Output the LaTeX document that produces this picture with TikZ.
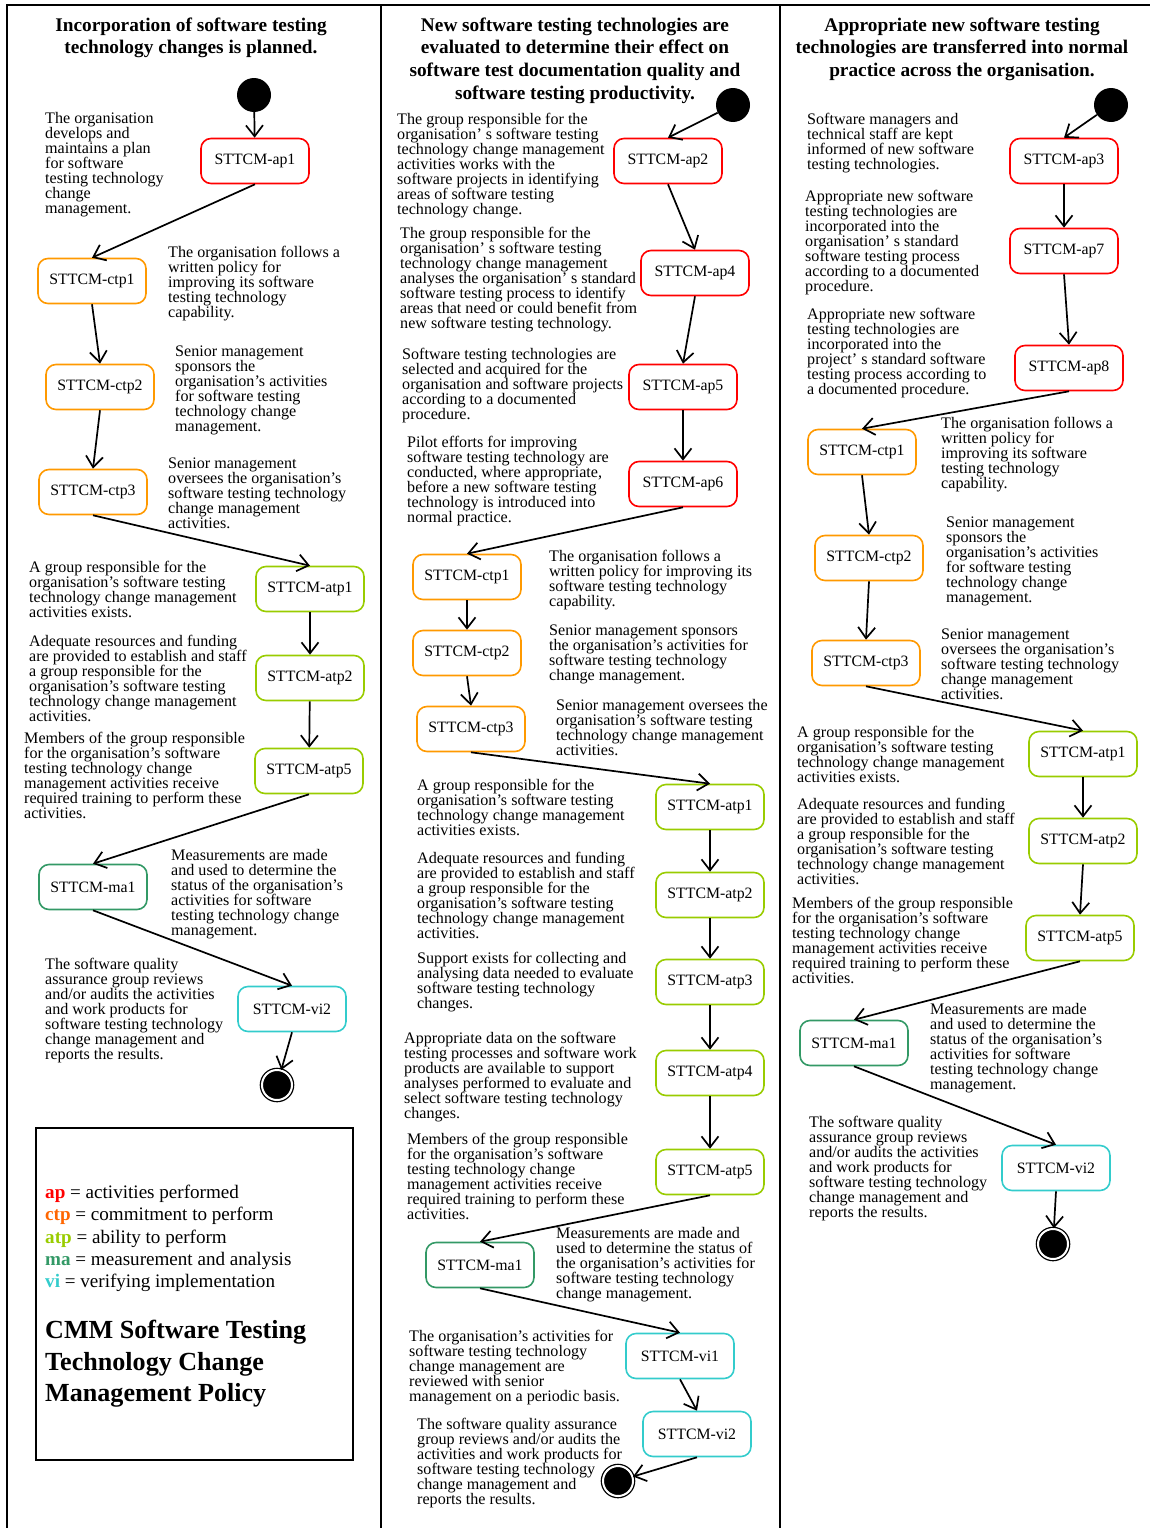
\documentclass[tikz,border=0pt]{standalone}
\usepackage{fontspec}
\setmainfont{Liberation Serif}
\usetikzlibrary{arrows.meta}

\definecolor{apc}{RGB}{255,0,0}
\definecolor{ctpc}{RGB}{255,153,0}
\definecolor{ctpl}{RGB}{255,102,0}
\definecolor{atpc}{RGB}{153,204,0}
\definecolor{mac}{RGB}{51,153,102}
\definecolor{vic}{RGB}{51,204,204}

\tikzset{
  box/.style={draw, line width=1.6pt, rounded corners=10pt, minimum width=108pt,
    minimum height=45pt, inner sep=2pt, fill=white, font=\fontsize{15.8}{18}\selectfont},
  apbox/.style={box, draw=apc},
  ctpbox/.style={box, draw=ctpc},
  atpbox/.style={box, draw=atpc},
  mabox/.style={box, draw=mac},
  vibox/.style={box, draw=vic},
  startdot/.style={circle, fill=black, minimum size=34pt, inner sep=0pt},
  enddot/.style={circle, fill=black, draw=black, line width=1.3pt, double=white,
    double distance=2pt, minimum size=30pt, inner sep=0pt},
  flow/.style={line width=1.7pt, -{Straight Barb[length=11pt,width=17pt]}},
  desc/.style={anchor=north west, align=left, inner sep=0pt, yshift=-1.5pt,
    font=\fontsize{16.1}{15}\selectfont},
  head/.style={anchor=north, align=center, inner sep=0pt, yshift=-2pt,
    font=\bfseries\fontsize{19.3}{22.7}\selectfont},
  framing/.style={line width=2pt}
}

\begin{document}
\begin{tikzpicture}[x=1pt, y=-1pt]
\useasboundingbox (0,0) rectangle (1150,1528);

% page frame and column separators
\draw[framing] (7,1528) -- (7,5) -- (1150,5);
\draw[framing] (381,5) -- (381,1528);
\draw[framing] (780,5) -- (780,1528);

% ---------------- column 1 ----------------
\node[head] (h1) at (191,15.5) {Incorporation of software testing\\technology changes is planned.};

\node[startdot] (s1) at (254,95) {};
\node[apbox]  (c1ap1)  at (255,161) {STTCM-ap1};
\node[ctpbox] (c1ctp1) at (92,281)  {STTCM-ctp1};
\node[ctpbox] (c1ctp2) at (100,387) {STTCM-ctp2};
\node[ctpbox] (c1ctp3) at (93,492)  {STTCM-ctp3};
\node[atpbox] (c1atp1) at (310,589) {STTCM-atp1};
\node[atpbox] (c1atp2) at (310,678) {STTCM-atp2};
\node[atpbox] (c1atp5) at (309,771) {STTCM-atp5};
\node[mabox]  (c1ma1)  at (93,887)  {STTCM-ma1};
\node[vibox]  (c1vi2)  at (292,1009) {STTCM-vi2};
\node[enddot] (e1) at (277,1085) {};

\draw[flow] (s1) -- (c1ap1);
\draw[flow] (c1ap1.south) -- (c1ctp1.north);
\draw[flow] (c1ctp1.south) -- (c1ctp2.north);
\draw[flow] (c1ctp2.south) -- (c1ctp3.north);
\draw[flow] (c1ctp3.south) -- (c1atp1.north);
\draw[flow] (c1atp1) -- (c1atp2);
\draw[flow] (c1atp2) -- (c1atp5);
\draw[flow] (c1atp5.south) -- (c1ma1.north);
\draw[flow] (c1ma1.south) -- (c1vi2.north);
\draw[flow] (c1vi2.south) -- (e1);

\node[desc] (d1a) at (45,111) {The organisation\\develops and\\maintains a plan\\for software\\testing technology\\change\\management.};
\node[desc] (d1b) at (168,244) {The organisation follows a\\written policy for\\improving its software\\testing technology\\capability.};
\node[desc] (d1c) at (175,344) {Senior management\\sponsors the\\organisation's activities\\for software testing\\technology change\\management.};
\node[desc] (d1d) at (168,456) {Senior management\\oversees the organisation's\\software testing technology\\change management\\activities.};
\node[desc] (d1e) at (29,559) {A group responsible for the\\organisation's software testing\\technology change management\\activities exists.};
\node[desc] (d1f) at (29,633) {Adequate resources and funding\\are provided to establish and staff\\a group responsible for the\\organisation's software testing\\technology change management\\activities.};
\node[desc] (d1g) at (24,730) {Members of the group responsible\\for the organisation's software\\testing technology change\\management activities receive\\required training to perform these\\activities.};
\node[desc] (d1h) at (171,848) {Measurements are made\\and used to determine the\\status of the organisation's\\activities for software\\testing technology change\\management.};
\node[desc] (d1i) at (45,956) {The software quality\\assurance group reviews\\and/or audits the activities\\and work products for\\software testing technology\\change management and\\reports the results.};

% legend
\draw[line width=1.5pt] (36,1128) rectangle (353,1460);
\node[anchor=north west, align=left, inner sep=0pt, font=\fontsize{19.1}{22.3}\selectfont] (key) at (45,1185)
  {\textcolor{apc}{\bfseries ap} = activities performed\\
   \textcolor{ctpl}{\bfseries ctp} = commitment to perform\\
   \textcolor{atpc}{\bfseries atp} = ability to perform\\
   \textcolor{mac}{\bfseries ma} = measurement and analysis\\
   \textcolor{vic}{\bfseries vi} = verifying implementation};
\node[anchor=north west, align=left, inner sep=0pt, font=\bfseries\fontsize{26.1}{31.7}\selectfont] (policy) at (45,1320)
  {CMM Software Testing\\Technology Change\\Management Policy};

% ---------------- column 2 ----------------
\node[head] (h2) at (575,15.5) {New software testing technologies are\\evaluated to determine their effect on\\software test documentation quality and\\software testing productivity.};

\node[startdot] (s2) at (733,105) {};
\node[apbox]  (c2ap2)  at (668,161) {STTCM-ap2};
\node[apbox]  (c2ap4)  at (695,273) {STTCM-ap4};
\node[apbox]  (c2ap5)  at (683,387) {STTCM-ap5};
\node[apbox]  (c2ap6)  at (683,484) {STTCM-ap6};
\node[ctpbox] (c2ctp1) at (467,577) {STTCM-ctp1};
\node[ctpbox] (c2ctp2) at (467,653) {STTCM-ctp2};
\node[ctpbox] (c2ctp3) at (471,729) {STTCM-ctp3};
\node[atpbox] (c2atp1) at (710,807) {STTCM-atp1};
\node[atpbox] (c2atp2) at (710,895) {STTCM-atp2};
\node[atpbox] (c2atp3) at (710,982) {STTCM-atp3};
\node[atpbox] (c2atp4) at (710,1073) {STTCM-atp4};
\node[atpbox] (c2atp5) at (710,1172) {STTCM-atp5};
\node[mabox]  (c2ma1)  at (480,1265) {STTCM-ma1};
\node[vibox]  (c2vi1)  at (680,1356) {STTCM-vi1};
\node[vibox]  (c2vi2)  at (697,1434) {STTCM-vi2};
\node[enddot] (e2) at (618,1481) {};

\draw[flow] (s2) -- (c2ap2.north);
\draw[flow] (c2ap2.south) -- (c2ap4.north);
\draw[flow] (c2ap4.south) -- (c2ap5.north);
\draw[flow] (c2ap5) -- (c2ap6);
\draw[flow] (c2ap6.south) -- (c2ctp1.north);
\draw[flow] (c2ctp1) -- (c2ctp2);
\draw[flow] (c2ctp2.south) -- (c2ctp3.north);
\draw[flow] (c2ctp3.south) -- (c2atp1.north);
\draw[flow] (c2atp1) -- (c2atp2);
\draw[flow] (c2atp2) -- (c2atp3);
\draw[flow] (c2atp3) -- (c2atp4);
\draw[flow] (c2atp4) -- (c2atp5);
\draw[flow] (c2atp5.south) -- (c2ma1.north);
\draw[flow] (c2ma1.south) -- (c2vi1.north);
\draw[flow] (c2vi1.south) -- (c2vi2.north);
\draw[flow] (c2vi2.south) -- (e2);

\node[desc] (d2a) at (397,111) {The group responsible for the\\organisation' s software testing\\technology change management\\activities works with the\\software projects in identifying\\areas of software testing\\technology change.};
\node[desc] (d2b) at (400,225) {The group responsible for the\\organisation' s software testing\\technology change management\\analyses the organisation' s standard\\software testing process to identify\\areas that need or could benefit from\\new software testing technology.};
\node[desc] (d2c) at (402,346) {Software testing technologies are\\selected and acquired for the\\organisation and software projects\\according to a documented\\procedure.};
\node[desc] (d2d) at (407,434) {Pilot efforts for improving\\software testing technology are\\conducted, where appropriate,\\before a new software testing\\technology is introduced into\\normal practice.};
\node[desc] (d2e) at (549,548) {The organisation follows a\\written policy for improving its\\software testing technology\\capability.};
\node[desc] (d2f) at (549,623) {Senior management sponsors\\the organisation's activities for\\software testing technology\\change management.};
\node[desc] (d2g) at (556,698) {Senior management oversees the\\organisation's software testing\\technology change management\\activities.};
\node[desc] (d2h) at (417,777) {A group responsible for the\\organisation's software testing\\technology change management\\activities exists.};
\node[desc] (d2i) at (417,850) {Adequate resources and funding\\are provided to establish and staff\\a group responsible for the\\organisation's software testing\\technology change management\\activities.};
\node[desc] (d2j) at (417,950) {Support exists for collecting and\\analysing data needed to evaluate\\software testing technology\\changes.};
\node[desc] (d2k) at (404,1030) {Appropriate data on the software\\testing processes and software work\\products are available to support\\analyses performed to evaluate and\\select software testing technology\\changes.};
\node[desc] (d2l) at (407,1131) {Members of the group responsible\\for the organisation's software\\testing technology change\\management activities receive\\required training to perform these\\activities.};
\node[desc] (d2m) at (556,1226) {Measurements are made and\\used to determine the status of\\the organisation's activities for\\software testing technology\\change management.};
\node[desc] (d2n) at (409,1328) {The organisation's activities for\\software testing technology\\change management are\\reviewed with senior\\management on a periodic basis.};
\node[desc] (d2o) at (417,1416) {The software quality assurance\\group reviews and/or audits the\\activities and work products for\\software testing technology\\change management and\\reports the results.};

% ---------------- column 3 ----------------
\node[head] (h3) at (962,15.5) {Appropriate new software testing\\technologies are transferred into normal\\practice across the organisation.};

\node[startdot] (s3) at (1111,105) {};
\node[apbox]  (c3ap3)  at (1064,161) {STTCM-ap3};
\node[apbox]  (c3ap7)  at (1064,251) {STTCM-ap7};
\node[apbox]  (c3ap8)  at (1069,368) {STTCM-ap8};
\node[ctpbox] (c3ctp1) at (862,452) {STTCM-ctp1};
\node[ctpbox] (c3ctp2) at (869,558) {STTCM-ctp2};
\node[ctpbox] (c3ctp3) at (866,663) {STTCM-ctp3};
\node[atpbox] (c3atp1) at (1083,754) {STTCM-atp1};
\node[atpbox] (c3atp2) at (1083,841) {STTCM-atp2};
\node[atpbox] (c3atp5) at (1080,938) {STTCM-atp5};
\node[mabox]  (c3ma1)  at (854,1043) {STTCM-ma1};
\node[vibox]  (c3vi2)  at (1056,1168) {STTCM-vi2};
\node[enddot] (e3) at (1053,1244) {};

\draw[flow] (s3) -- (c3ap3.north);
\draw[flow] (c3ap3) -- (c3ap7);
\draw[flow] (c3ap7.south) -- (c3ap8.north);
\draw[flow] (c3ap8.south) -- (c3ctp1.north);
\draw[flow] (c3ctp1.south) -- (c3ctp2.north);
\draw[flow] (c3ctp2.south) -- (c3ctp3.north);
\draw[flow] (c3ctp3.south) -- (c3atp1.north);
\draw[flow] (c3atp1) -- (c3atp2);
\draw[flow] (c3atp2.south) -- (c3atp5.north);
\draw[flow] (c3atp5.south) -- (c3ma1.north);
\draw[flow] (c3ma1.south) -- (c3vi2.north);
\draw[flow] (c3vi2.south) -- (e3);

\node[desc] (d3a) at (807,111) {Software managers and\\technical staff are kept\\informed of new software\\testing technologies.};
\node[desc] (d3b) at (805,188) {Appropriate new software\\testing technologies are\\incorporated into the\\organisation' s standard\\software testing process\\according to a documented\\procedure.};
\node[desc] (d3c) at (807,306) {Appropriate new software\\testing technologies are\\incorporated into the\\project' s standard software\\testing process according to\\a documented procedure.};
\node[desc] (d3d) at (941,415) {The organisation follows a\\written policy for\\improving its software\\testing technology\\capability.};
\node[desc] (d3e) at (946,515) {Senior management\\sponsors the\\organisation's activities\\for software testing\\technology change\\management.};
\node[desc] (d3f) at (941,627) {Senior management\\oversees the organisation's\\software testing technology\\change management\\activities.};
\node[desc] (d3g) at (797,724) {A group responsible for the\\organisation's software testing\\technology change management\\activities exists.};
\node[desc] (d3h) at (797,796) {Adequate resources and funding\\are provided to establish and staff\\a group responsible for the\\organisation's software testing\\technology change management\\activities.};
\node[desc] (d3i) at (792,895) {Members of the group responsible\\for the organisation's software\\testing technology change\\management activities receive\\required training to perform these\\activities.};
\node[desc] (d3j) at (930,1002) {Measurements are made\\and used to determine the\\status of the organisation's\\activities for software\\testing technology change\\management.};
\node[desc] (d3k) at (809,1114) {The software quality\\assurance group reviews\\and/or audits the activities\\and work products for\\software testing technology\\change management and\\reports the results.};
\end{tikzpicture}
\end{document}
